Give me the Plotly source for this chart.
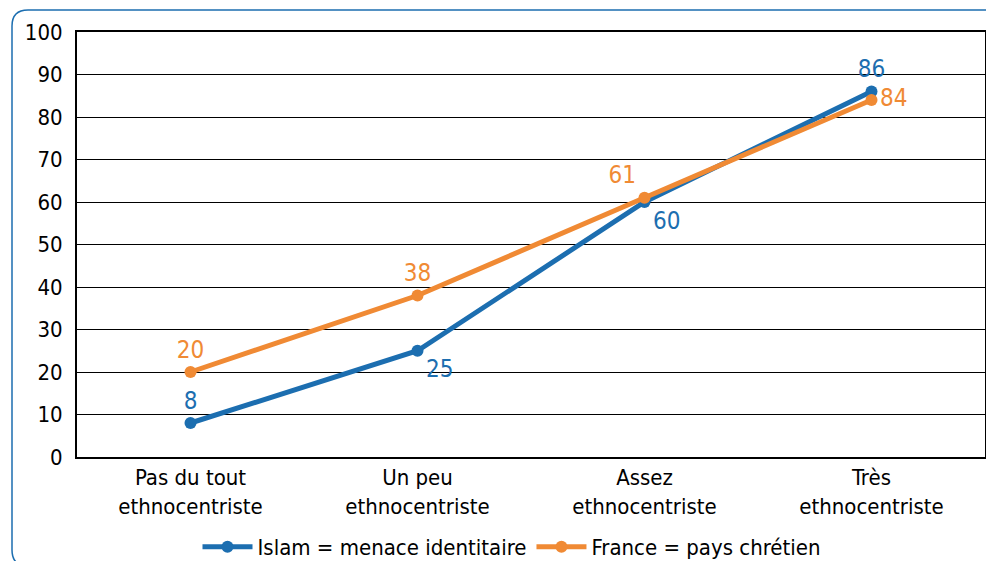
import plotly.graph_objects as go

categories = ["Pas du tout<br>ethnocentriste", "Un peu<br>ethnocentriste",
              "Assez<br>ethnocentriste", "Très<br>ethnocentriste"]
islam = [8, 25, 60, 86]
france = [20, 38, 61, 84]
series_names = ["Islam = menace identitaire", "France = pays chrétien"]
y_ticks = list(range(0, 101, 10))

BLUE = "#1C6EB0"
ORANGE = "#F08A34"
FONT = "DejaVu Sans Condensed, Liberation Sans Narrow, sans-serif"

OFF = 8  # default page body margin
W, H = 994 - OFF, 561 - OFF
L, T = 77 - OFF, 32 - OFF
plot_right, plot_bottom = 985 - OFF, 457 - OFF
R, B = W - plot_right, H - plot_bottom
pw, ph = W - L - R, H - T - B

def px(x):
    return (x - OFF - L) / pw

def py(y):
    return (H - B - (y - OFF)) / ph

fig = go.Figure()
fig.add_trace(go.Scatter(
    x=categories, y=islam, name=series_names[0], mode="lines+markers+text",
    line=dict(color=BLUE, width=5), marker=dict(size=12, color=BLUE),
    text=[str(v) for v in islam],
    textposition=["top center", "bottom right", "bottom right", "top center"],
    textfont=dict(color=BLUE, size=24, family=FONT), cliponaxis=False,
))
fig.add_trace(go.Scatter(
    x=categories, y=france, name=series_names[1], mode="lines+markers+text",
    line=dict(color=ORANGE, width=5), marker=dict(size=12, color=ORANGE),
    text=[str(v) for v in france],
    textposition=["top center", "top center", "top left", "middle right"],
    textfont=dict(color=ORANGE, size=24, family=FONT), cliponaxis=False,
))

# rounded frame (reference pixel coordinates)
r = 16
x0, y0, y1, xe = 12, 10, 566, 1010
path = (f"M {px(xe)} {py(y0)} L {px(x0 + r)} {py(y0)} "
        f"Q {px(x0)} {py(y0)} {px(x0)} {py(y0 + r)} "
        f"L {px(x0)} {py(y1 - r)} Q {px(x0)} {py(y1)} {px(x0 + r)} {py(y1)} "
        f"L {px(xe)} {py(y1)}")
fig.add_shape(type="path", xref="paper", yref="paper", path=path,
              line=dict(color=BLUE, width=1.5), layer="below")

fig.update_layout(
    width=W, height=H,
    margin=dict(l=L, r=R, t=T, b=B, autoexpand=False),
    paper_bgcolor="white", plot_bgcolor="white",
    font=dict(family=FONT, size=22, color="black"),
    showlegend=True,
    legend=dict(orientation="h", x=px(512), xanchor="center", y=py(547), yanchor="middle",
                font=dict(size=22, family=FONT), itemwidth=50,
                bgcolor="rgba(0,0,0,0)"),
    xaxis=dict(type="category", range=[-0.5, 3.5], showgrid=False,
               showline=True, linecolor="black", linewidth=2, mirror=True,
               ticks="", tickfont=dict(size=22, family=FONT)),
    yaxis=dict(range=[0, 100], tickvals=y_ticks, showgrid=True, gridcolor="black",
               gridwidth=1, showline=True, linecolor="black", linewidth=2, mirror=True,
               zeroline=False, ticks="", ticklabelstandoff=8,
               tickfont=dict(size=22, family=FONT)),
)

fig.write_html("out.html")
